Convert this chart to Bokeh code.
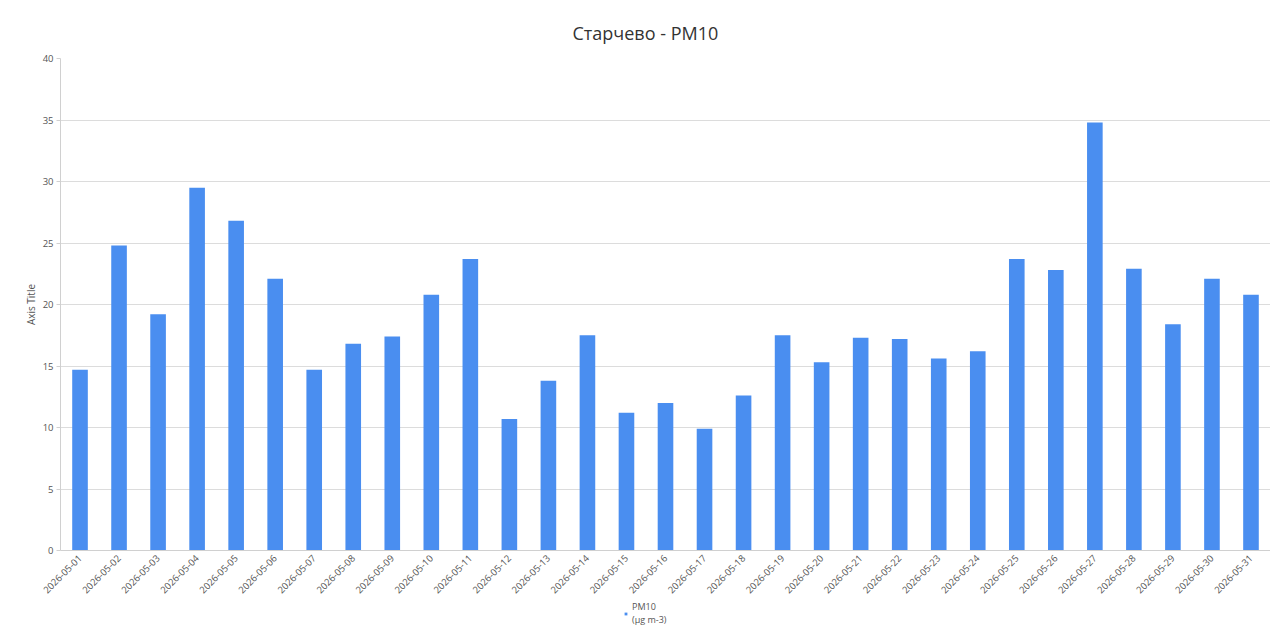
import math
from bokeh.plotting import figure
from bokeh.layouts import column
from bokeh.models import ColumnDataSource, Range1d, Legend, LegendItem, FactorRange
from bokeh.embed import file_html
from bokeh.resources import INLINE

dates = [f"2026-05-{d:02d}" for d in range(1, 32)]
pm10 = [14.7, 24.8, 19.2, 29.5, 26.8, 22.1, 14.7, 16.8, 17.4, 20.8,
        23.7, 10.7, 13.8, 17.5, 11.2, 12.0, 9.9, 12.6, 17.5, 15.3,
        17.3, 17.2, 15.6, 16.2, 23.7, 22.8, 34.8, 22.9, 18.4, 22.1, 20.8]
y_ticks = [0, 5, 10, 15, 20, 25, 30, 35, 40]
title_text = "Старчево - PM10"
series_label = "PM10\n(μg m-3)"
y_title = "Axis Title"

FONT = "Open Sans"
BAR = "#4a8ef0"

src = ColumnDataSource(dict(date=dates, pm10=pm10))

p = figure(width=1270, height=599, x_range=FactorRange(*dates), y_range=Range1d(0, 40),
           output_backend="svg", toolbar_location=None, title=title_text,
           min_border_left=60, min_border_right=0, min_border_top=58, min_border_bottom=0)

p.title.text_font = FONT
p.title.text_font_size = "18px"
p.title.text_font_style = "normal"
p.title.text_color = "#333333"
p.title.align = "left"
p.title.offset = 512
p.title.standoff = 28

r = p.vbar(x="date", top="pm10", width=0.4, source=src, fill_color=BAR, line_color=None)

p.outline_line_color = None
p.background_fill_color = "white"
p.border_fill_color = "white"

p.xgrid.grid_line_color = None
p.ygrid.grid_line_color = "#dcdcdc"
p.ygrid.ticker = y_ticks
p.yaxis.ticker = y_ticks

for ax in (p.xaxis[0], p.yaxis[0]):
    ax.axis_line_color = "#d0d0d0"
    ax.major_label_text_font = FONT
    ax.major_label_text_font_size = "9.5px"
    ax.major_label_text_color = "#555555"
    ax.minor_tick_line_color = None
    ax.minor_tick_out = 0
    ax.minor_tick_in = 0

p.yaxis.axis_label = y_title
p.yaxis.axis_label_text_font = FONT
p.yaxis.axis_label_text_font_size = "10px"
p.yaxis.axis_label_text_font_style = "normal"
p.yaxis.axis_label_text_color = "#555555"
p.yaxis.axis_label_standoff = 2

p.yaxis.major_tick_line_color = "#d0d0d0"
p.yaxis.major_tick_in = 0
p.yaxis.major_tick_out = 4
p.yaxis.major_label_standoff = 3
p.xaxis.major_tick_line_color = None
p.xaxis.major_tick_in = 0
p.xaxis.major_tick_out = 0
p.xaxis.major_label_orientation = math.pi / 4
p.xaxis.major_label_standoff = 6

# legend strip below the chart
pl = figure(width=1270, height=30, output_backend="svg", toolbar_location=None,
            x_range=Range1d(0, 1), y_range=Range1d(0, 1),
            min_border=0, x_axis_type=None, y_axis_type=None)
pl.outline_line_color = None
pl.xgrid.grid_line_color = None
pl.ygrid.grid_line_color = None
swatch = pl.scatter(x=[-10], y=[-10], marker="square", size=7, fill_color=BAR, line_color=None)

legend = Legend(items=[LegendItem(label=series_label, renderers=[swatch])],
                location=(562, 3), orientation="horizontal",
                label_text_font=FONT, label_text_font_size="9px", label_text_color="#555555",
                label_text_line_height=1.0,
                glyph_width=7, glyph_height=7, label_standoff=3,
                border_line_color=None, background_fill_alpha=0,
                padding=1, margin=0, label_height=9, spacing=0)
pl.add_layout(legend)

open("out.html", "w").write(file_html(column(p, pl, spacing=0), INLINE))
